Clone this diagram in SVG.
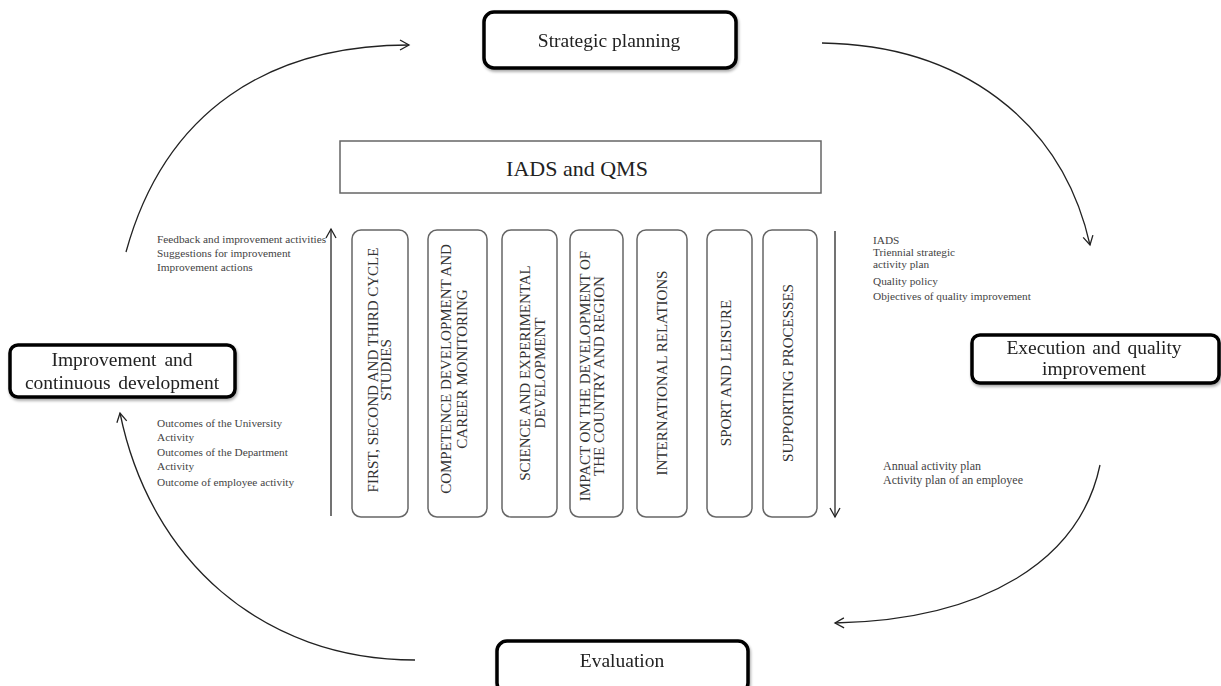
<svg xmlns="http://www.w3.org/2000/svg" width="1221" height="686" viewBox="0 0 1221 686">
  <defs>
    <marker id="open-arrow" viewBox="0 0 12 12" refX="10" refY="6" markerWidth="12" markerHeight="12" markerUnits="userSpaceOnUse" orient="auto">
      <polyline points="1,1 10,6 1,11" fill="none" stroke="#222" stroke-width="1.3"/>
    </marker>
    <filter id="soft-shadow" x="-10%" y="-20%" width="120%" height="150%">
      <feGaussianBlur in="SourceAlpha" stdDeviation="1.5"/>
      <feOffset dx="1" dy="2" result="off"/>
      <feComponentTransfer><feFuncA type="linear" slope="0.35"/></feComponentTransfer>
      <feMerge><feMergeNode/><feMergeNode in="SourceGraphic"/></feMerge>
    </filter>
  </defs>
  <style>
    .stage { fill: #fff; stroke: #000; stroke-width: 3.5; }
    .stage-label { font-family: "Liberation Serif", serif; font-size: 19.5px; fill: #222; text-anchor: middle; }
    .header { fill: #fff; stroke: #666; stroke-width: 1.5; }
    .header-label { font-family: "Liberation Serif", serif; font-size: 22px; fill: #222; text-anchor: middle; }
    .area { fill: #fff; stroke: #666; stroke-width: 1.5; }
    .area-label { font-family: "Liberation Serif", serif; font-size: 15px; fill: #333; text-anchor: middle; }
    .note { font-family: "Liberation Serif", serif; font-size: 11.3px; fill: #444; }
    .note-lg { font-size: 12px; }
    .cycle { fill: none; stroke: #222; stroke-width: 1.3; marker-end: url(#open-arrow); }
    .axis { fill: none; stroke: #444; stroke-width: 1.5; marker-end: url(#open-arrow); }
  </style>

  <rect width="1221" height="686" fill="#fff"/>

  <!-- cycle connectors -->
  <g id="connectors">
    <path class="cycle" d="M126,252 C165,110 270,45 409,45"/>
    <path class="cycle" d="M822,43 C960,45 1062,120 1090,245"/>
    <path class="cycle" d="M1100,465 C1080,560 985,620 835,623"/>
    <path class="cycle" d="M415,660 C262,660 150,560 120,413"/>
    <path class="axis" d="M331,516 L331,229"/>
    <path class="axis" d="M835,231 L835,517"/>
  </g>

  <!-- cycle stages -->
  <g id="strategic-planning" filter="url(#soft-shadow)">
    <rect class="stage" x="484" y="12" width="252" height="56" rx="10"/>
    <text class="stage-label" x="609" y="47">Strategic planning</text>
  </g>
  <g id="execution" filter="url(#soft-shadow)">
    <rect class="stage" x="972" y="335" width="247" height="48" rx="8"/>
    <text class="stage-label" x="1094" y="354" word-spacing="2">Execution and quality</text>
    <text class="stage-label" x="1094" y="375">improvement</text>
  </g>
  <g id="evaluation" filter="url(#soft-shadow)">
    <rect class="stage" x="497" y="641" width="251" height="52" rx="10"/>
    <text class="stage-label" x="622" y="667">Evaluation</text>
  </g>
  <g id="improvement" filter="url(#soft-shadow)">
    <rect class="stage" x="10" y="345" width="225" height="52" rx="8"/>
    <text class="stage-label" x="122" y="366" word-spacing="3">Improvement and</text>
    <text class="stage-label" x="122" y="389" word-spacing="3">continuous development</text>
  </g>

  <!-- framework header -->
  <g id="iads-qms">
    <rect class="header" x="340" y="141" width="481" height="52"/>
    <text class="header-label" x="577" y="176">IADS and QMS</text>
  </g>

  <!-- activity areas (vertical labels) -->
  <g id="area-studies">
    <rect class="area" x="352" y="230" width="56" height="287" rx="9"/>
    <text class="area-label" transform="translate(380,370) rotate(-90)"><tspan x="0" y="-2">FIRST, SECOND AND THIRD CYCLE</tspan><tspan x="0" y="11">STUDIES</tspan></text>
  </g>
  <g id="area-competence">
    <rect class="area" x="428" y="230" width="59" height="287" rx="9"/>
    <text class="area-label" transform="translate(454,369) rotate(-90)"><tspan x="0" y="-3">COMPETENCE DEVELOPMENT AND</tspan><tspan x="0" y="13">CAREER MONITORING</tspan></text>
  </g>
  <g id="area-science">
    <rect class="area" x="502" y="230" width="55" height="287" rx="9"/>
    <text class="area-label" transform="translate(532,373) rotate(-90)"><tspan x="0" y="-2">SCIENCE AND EXPERIMENTAL</tspan><tspan x="0" y="13">DEVELOPMENT</tspan></text>
  </g>
  <g id="area-impact">
    <rect class="area" x="570" y="230" width="53" height="287" rx="9"/>
    <text class="area-label" transform="translate(592,376) rotate(-90)"><tspan x="0" y="-2">IMPACT ON THE DEVELOPMENT OF</tspan><tspan x="0" y="12">THE COUNTRY AND REGION</tspan></text>
  </g>
  <g id="area-international">
    <rect class="area" x="637" y="230" width="50" height="287" rx="9"/>
    <text class="area-label" transform="translate(662,373) rotate(-90)"><tspan x="0" y="5">INTERNATIONAL RELATIONS</tspan></text>
  </g>
  <g id="area-sport">
    <rect class="area" x="707" y="230" width="45" height="287" rx="9"/>
    <text class="area-label" transform="translate(726,373) rotate(-90)"><tspan x="0" y="5">SPORT AND LEISURE</tspan></text>
  </g>
  <g id="area-supporting">
    <rect class="area" x="763" y="230" width="54" height="287" rx="9"/>
    <text class="area-label" transform="translate(788,373) rotate(-90)"><tspan x="0" y="5">SUPPORTING PROCESSES</tspan></text>
  </g>

  <!-- side notes -->
  <g id="note-feedback">
    <text class="note" x="157" y="243">Feedback and improvement activities</text>
    <text class="note" x="157" y="257">Suggestions for improvement</text>
    <text class="note" x="157" y="271">Improvement actions</text>
  </g>
  <g id="note-plans">
    <text class="note" x="873" y="244">IADS</text>
    <text class="note" x="873" y="256">Triennial strategic</text>
    <text class="note" x="873" y="268">activity plan</text>
    <text class="note" x="873" y="285">Quality policy</text>
    <text class="note" x="873" y="300">Objectives of quality improvement</text>
  </g>
  <g id="note-outcomes">
    <text class="note" x="157" y="427">Outcomes  of the University</text>
    <text class="note" x="157" y="441">Activity</text>
    <text class="note" x="157" y="456">Outcomes of the Department</text>
    <text class="note" x="157" y="470">Activity</text>
    <text class="note" x="157" y="486">Outcome of employee activity</text>
  </g>
  <g id="note-annual">
    <text class="note note-lg" x="883" y="470">Annual activity plan</text>
    <text class="note note-lg" x="883" y="484">Activity plan of an employee</text>
  </g>
</svg>
